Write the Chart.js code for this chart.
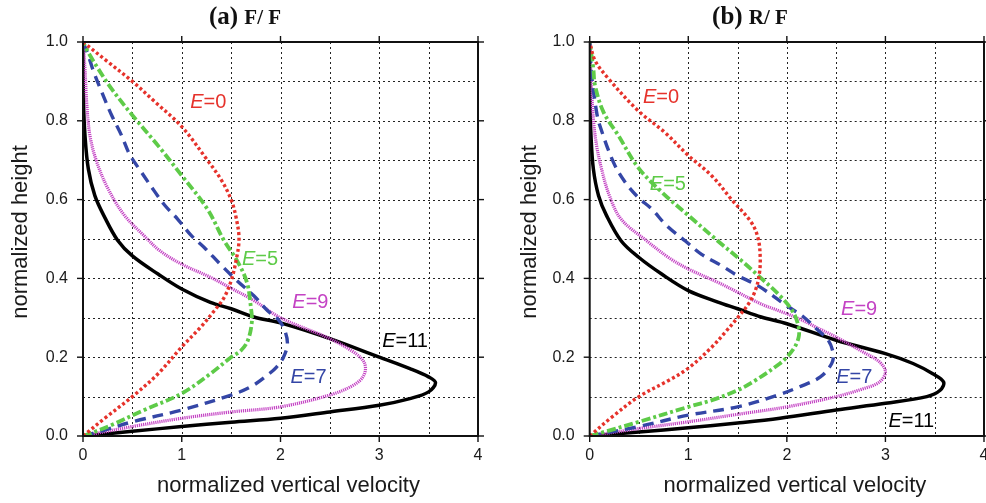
<!DOCTYPE html>
<html><head><meta charset="utf-8">
<script src="https://cdn.jsdelivr.net/npm/chart.js@4/dist/chart.umd.min.js"></script>
<style>
html,body{margin:0;padding:0;background:#fff;}
#wrap{position:relative;width:986px;height:503px;overflow:hidden;background:#fff;}
canvas{position:absolute;top:0;}
</style></head><body>
<div id="wrap">
<canvas id="ca" width="493" height="503" style="left:0"></canvas>
<canvas id="cb" width="493" height="503" style="left:493px"></canvas>
</div>
<script>
// ---------- data: [velocity, height] pairs ----------
const seriesNames = ['E=0', 'E=5', 'E=7', 'E=9', 'E=11'];
const xTicks = [0, 1, 2, 3, 4];
const yTicks = ['0.0', '0.2', '0.4', '0.6', '0.8', '1.0'];
const panelTitles = [['(a)', 'F/ F'], ['(b)', 'R/ F']];
const xTitle = 'normalized vertical velocity';
const yTitle = 'normalized height';

// panel (a) F/F
const aE0 = [[0,0],[0.22,0.045],[0.5,0.1],[0.76,0.158],[1.0,0.226],[1.19,0.276],[1.33,0.318],[1.43,0.352],[1.5,0.394],[1.55,0.445],[1.58,0.5],[1.55,0.555],[1.5,0.6],[1.4,0.65],[1.26,0.70],[1.0,0.785],[0.72,0.85],[0.5,0.9],[0.25,0.95],[0,1.0]];
const aE5 = [[0,0],[0.12,0.011],[0.29,0.028],[0.62,0.066],[1.0,0.108],[1.29,0.158],[1.5,0.2],[1.6,0.217],[1.67,0.243],[1.71,0.29],[1.7,0.327],[1.66,0.39],[1.56,0.445],[1.43,0.495],[1.26,0.576],[1.0,0.661],[0.76,0.737],[0.5,0.814],[0.29,0.881],[0.154,0.932],[0.05,0.975],[0,1.0]];
const aE7 = [[0,0],[0.22,0.015],[0.5,0.036],[1.0,0.066],[1.5,0.104],[1.7,0.125],[1.87,0.155],[1.96,0.175],[2.03,0.2],[2.07,0.235],[2.04,0.27],[1.98,0.295],[1.87,0.318],[1.73,0.356],[1.56,0.394],[1.39,0.436],[1.23,0.478],[1.1,0.508],[0.96,0.55],[0.83,0.585],[0.73,0.619],[0.59,0.67],[0.47,0.716],[0.39,0.763],[0.29,0.814],[0.19,0.873],[0.1,0.93],[0.054,0.966],[0,1.0]];
const aE9 = [[0,0],[0.5,0.024],[1.0,0.045],[1.5,0.061],[2.0,0.074],[2.5,0.104],[2.71,0.125],[2.82,0.145],[2.86,0.168],[2.84,0.19],[2.74,0.213],[2.5,0.247],[2.0,0.30],[1.73,0.344],[1.5,0.375],[1.29,0.403],[1.0,0.436],[0.78,0.47],[0.62,0.508],[0.42,0.56],[0.255,0.627],[0.14,0.695],[0.07,0.763],[0.037,0.847],[0.02,0.932],[0,1.0]];
const aE11 = [[0,0],[0.5,0.012],[1.0,0.024],[1.5,0.035],[2.0,0.045],[2.5,0.061],[3.0,0.078],[3.31,0.095],[3.5,0.112],[3.57,0.135],[3.5,0.15],[3.31,0.171],[3.0,0.2],[2.5,0.247],[2.0,0.287],[1.73,0.302],[1.5,0.323],[1.29,0.339],[1.0,0.373],[0.76,0.411],[0.5,0.457],[0.35,0.497],[0.22,0.555],[0.12,0.61],[0.054,0.678],[0.02,0.763],[0.005,0.85],[0,1.0]];

// panel (b) R/F
const bE0 = [[0,0],[0.22,0.047],[0.5,0.1],[0.8,0.141],[1.0,0.172],[1.24,0.226],[1.37,0.262],[1.5,0.3],[1.61,0.335],[1.68,0.369],[1.72,0.41],[1.73,0.45],[1.71,0.5],[1.64,0.542],[1.44,0.6],[1.24,0.66],[1.0,0.712],[0.76,0.771],[0.49,0.826],[0.19,0.907],[0.054,0.953],[0,1.0]];
const bE5 = [[0,0],[0.155,0.011],[0.5,0.036],[1.0,0.074],[1.24,0.091],[1.5,0.116],[1.68,0.141],[1.93,0.184],[2.0,0.2],[2.08,0.226],[2.12,0.251],[2.12,0.276],[2.065,0.314],[1.93,0.356],[1.71,0.407],[1.54,0.445],[1.30,0.495],[1.0,0.56],[0.73,0.619],[0.49,0.682],[0.29,0.763],[0.14,0.822],[0.054,0.89],[0.037,0.932],[0,1.0]];
const bE7 = [[0,0],[0.5,0.024],[1.0,0.053],[1.5,0.074],[1.91,0.104],[2.13,0.125],[2.34,0.15],[2.455,0.184],[2.47,0.209],[2.42,0.243],[2.30,0.272],[2.17,0.302],[1.99,0.332],[1.71,0.381],[1.5,0.407],[1.34,0.432],[1.135,0.461],[0.97,0.495],[0.78,0.534],[0.63,0.576],[0.49,0.606],[0.36,0.644],[0.24,0.695],[0.1,0.79],[0.07,0.822],[0.02,0.915],[0,1.0]];
const bE9 = [[0,0],[0.5,0.019],[1.0,0.036],[1.5,0.055],[2.0,0.074],[2.5,0.1],[2.775,0.12],[2.94,0.137],[3.0,0.163],[2.94,0.188],[2.775,0.213],[2.5,0.251],[2.33,0.272],[2.13,0.297],[1.95,0.315],[1.74,0.335],[1.5,0.365],[1.3,0.39],[1.0,0.424],[0.8,0.453],[0.58,0.495],[0.32,0.55],[0.2,0.61],[0.12,0.678],[0.07,0.737],[0.037,0.805],[0.015,0.9],[0,1.0]];
const bE11 = [[0,0],[0.5,0.01],[1.0,0.021],[1.5,0.033],[1.93,0.045],[2.5,0.066],[3.0,0.083],[3.42,0.1],[3.555,0.116],[3.59,0.137],[3.48,0.158],[3.28,0.184],[3.0,0.209],[2.5,0.243],[2.0,0.285],[1.74,0.302],[1.5,0.323],[1.3,0.34],[1.0,0.369],[0.73,0.411],[0.5,0.453],[0.32,0.495],[0.17,0.56],[0.09,0.61],[0.037,0.678],[0.013,0.763],[0.003,0.85],[0,1.0]];

// label anchors (data coords) for the curve annotations
const aLabelAt = [[1.086,0.832],[1.61,0.434],[2.10,0.135],[2.12,0.325],[3.03,0.226]];
const bLabelAt = [[0.54,0.845],[0.61,0.624],[2.50,0.135],[2.55,0.307],[3.03,0.023]];

// ---------- styles ----------
const FONT = '"Liberation Sans", Arial, Helvetica, sans-serif';
const SERIF = '"Liberation Serif", "Times New Roman", serif';
const TXT = '#1a1a1a';
const styles = [
  {color:'#e6322b', width:3.4, dash:[3,2.6], cap:'butt'},
  {color:'#5ecb48', width:3.8, dash:[9,3,3,3], cap:'butt'},
  {color:'#3446a6', width:3.4, dash:[11,7], cap:'butt'},
  {color:'#c443c4', width:3.2, dash:[1.2,0.9], cap:'butt'},
  {color:'#000000', width:3.5, dash:[], cap:'butt'}
];

function panelPlugin(idx, labelAt, o) {
  return {
    id: 'panelDeco' + idx,
    beforeDatasetsDraw(chart) {
      const {ctx, chartArea: {left, right, top, bottom}, scales: {x, y}} = chart;
      ctx.save();
      ctx.strokeStyle = '#222';
      ctx.lineWidth = 1;
      ctx.setLineDash([2, 3]);
      for (let v = x.min + 0.5; v < x.max - 1e-9; v += 0.5) {
        const px = Math.round(x.getPixelForValue(v)) + 0.5;
        ctx.beginPath(); ctx.moveTo(px, top); ctx.lineTo(px, bottom); ctx.stroke();
      }
      for (let v = y.min + 0.1; v < y.max - 1e-9; v += 0.1) {
        const py = Math.round(y.getPixelForValue(v)) + 0.5;
        ctx.beginPath(); ctx.moveTo(left, py); ctx.lineTo(right, py); ctx.stroke();
      }
      ctx.restore();
    },
    afterDatasetsDraw(chart) {
      const {ctx, chartArea: {left, right, top, bottom}, scales: {x, y}} = chart;
      ctx.save();
      ctx.setLineDash([]);
      ctx.strokeStyle = '#111';
      ctx.lineWidth = 2;
      ctx.strokeRect(left, top, right - left, bottom - top);
      ctx.lineWidth = 1.4;
      x.ticks.forEach(t => {
        const px = x.getPixelForValue(t.value);
        ctx.beginPath(); ctx.moveTo(px, bottom); ctx.lineTo(px, bottom + 6); ctx.stroke();
        ctx.beginPath(); ctx.moveTo(px, top); ctx.lineTo(px, top - 6); ctx.stroke();
      });
      y.ticks.forEach(t => {
        const py = y.getPixelForValue(t.value);
        ctx.beginPath(); ctx.moveTo(left, py); ctx.lineTo(left - 6, py); ctx.stroke();
        ctx.beginPath(); ctx.moveTo(right, py); ctx.lineTo(right + 6, py); ctx.stroke();
      });
      // curve labels
      ctx.textBaseline = 'alphabetic';
      ctx.textAlign = 'left';
      seriesNames.forEach((name, i) => {
        const px = x.getPixelForValue(labelAt[i][0]);
        const py = y.getPixelForValue(labelAt[i][1]);
        ctx.fillStyle = styles[i].color;
        ctx.font = 'italic 20px ' + FONT;
        ctx.fillText('E', px, py);
        const w = ctx.measureText('E').width;
        ctx.font = '20px ' + FONT;
        ctx.fillText(name.slice(1), px + w, py);
      });
      // axis titles
      ctx.fillStyle = TXT;
      ctx.font = '22px ' + FONT;
      ctx.textAlign = 'center';
      ctx.textBaseline = 'middle';
      ctx.fillText(xTitle, (left + right) / 2 + 8, 486);
      ctx.save();
      ctx.translate(o.yTitleX, (top + bottom) / 2 - 7);
      ctx.rotate(-Math.PI / 2);
      ctx.fillText(yTitle, 0, 0);
      ctx.restore();
      // panel title
      const [t1, t2] = panelTitles[idx];
      ctx.textAlign = 'left';
      ctx.textBaseline = 'alphabetic';
      ctx.fillStyle = '#111';
      ctx.font = 'bold 25px ' + SERIF;
      const w1 = ctx.measureText(t1 + ' ').width;
      ctx.font = 'bold 21px ' + SERIF;
      const w2 = ctx.measureText(t2).width;
      const x0 = o.titleCenter - (w1 + w2) / 2;
      ctx.font = 'bold 25px ' + SERIF;
      ctx.fillText(t1, x0, 24);
      ctx.font = 'bold 21px ' + SERIF;
      ctx.fillText(t2, x0 + w1, 24);
      ctx.restore();
    }
  };
}

function makePanel(canvasId, idx, curves, labelAt, o) {
  const datasets = curves.map((c, i) => ({
    label: seriesNames[i],
    data: c.map(p => ({x: p[0], y: p[1]})),
    showLine: true,
    pointRadius: 0,
    pointHoverRadius: 0,
    borderColor: styles[i].color,
    backgroundColor: styles[i].color,
    borderWidth: styles[i].width,
    borderDash: styles[i].dash,
    borderCapStyle: styles[i].cap,
    tension: 0.35,
    fill: false
  }));
  return new Chart(document.getElementById(canvasId), {
    type: 'scatter',
    data: {datasets},
    options: {
      responsive: false,
      animation: false,
      devicePixelRatio: 1,
      layout: {padding: {left: o.padL, right: o.padR, top: 42, bottom: 5}},
      plugins: {legend: {display: false}, tooltip: {enabled: false}, title: {display: false}},
      scales: {
        x: {
          type: 'linear', min: xTicks[0], max: xTicks[xTicks.length - 1], position: 'bottom',
          ticks: {stepSize: 1, padding: 10, color: TXT, font: {family: FONT, size: 16}, maxRotation: 0,
                  callback: (v) => String(xTicks[Math.round(v)])},
          grid: {display: false, drawTicks: false},
          border: {display: false},
          title: {display: false},
          afterFit: (s) => { s.height = 62; s.paddingLeft = 0; s.paddingRight = 0; }
        },
        y: {
          type: 'linear', min: 0, max: 1, position: 'left',
          ticks: {stepSize: 0.2, padding: 15, color: TXT, font: {family: FONT, size: 16},
                  callback: (v) => yTicks[Math.round(v * 5)]},
          grid: {display: false, drawTicks: false},
          border: {display: false},
          title: {display: false},
          afterFit: (s) => { s.width = o.yW; s.paddingTop = 0; s.paddingBottom = 0; }
        }
      }
    },
    plugins: [panelPlugin(idx, labelAt, o)]
  });
}

makePanel('ca', 0, [aE0, aE5, aE7, aE9, aE11], aLabelAt, {padL: 8.4, padR: 15, yW: 74.6, titleCenter: 245, yTitleX: 21});
makePanel('cb', 1, [bE0, bE5, bE7, bE9, bE11], bLabelAt, {padL: 24.4, padR: 2, yW: 72.3, titleCenter: 257, yTitleX: 37});
</script>
</body></html>
